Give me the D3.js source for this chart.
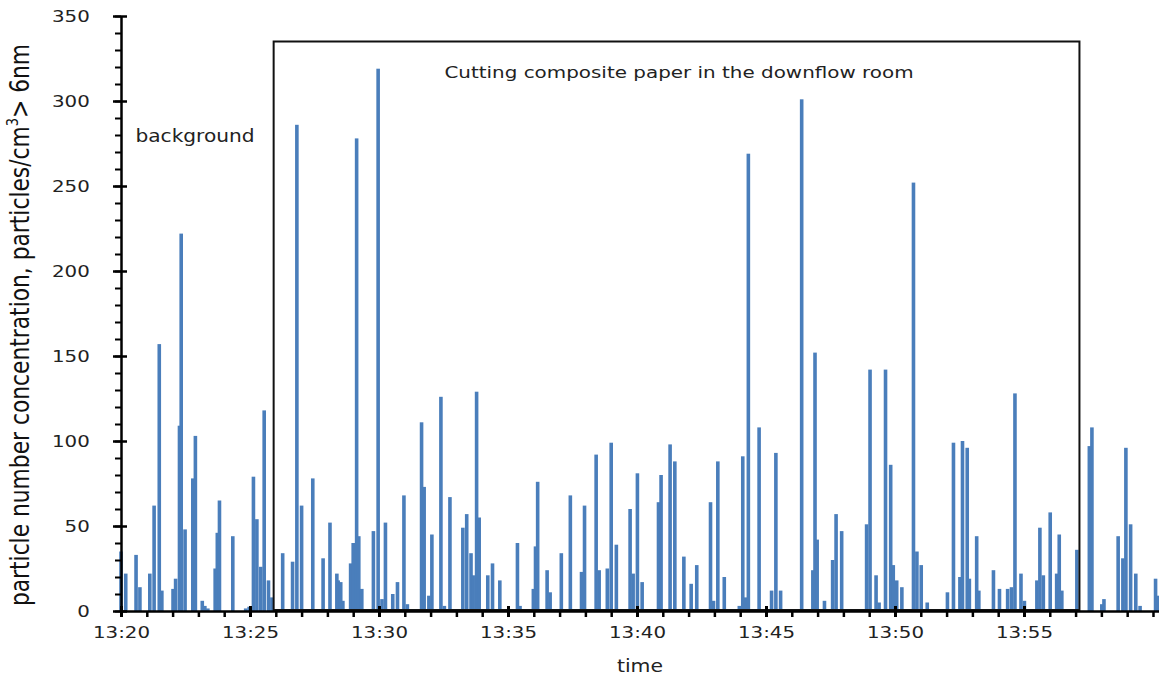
<!DOCTYPE html>
<html>
<head>
<meta charset="utf-8">
<script src="https://cdn.jsdelivr.net/npm/d3@7"></script>
<style>
    body { margin: 0; background: #fff; }
    svg { display: block; font-family: "DejaVu Sans", Verdana, sans-serif; }
</style>
</head>
<body>
<svg id="chart_svg" width="1159" height="679"></svg>
<script>
// spike times (hh:mm:ss) and concentrations
const spikeTimes = [
    "13:20:00", "13:20:11", "13:20:35", "13:20:44", "13:21:07", "13:21:17", "13:21:29", "13:21:35",
    "13:22:01", "13:22:07", "13:22:16", "13:22:20", "13:22:29", "13:22:47", "13:22:53", "13:23:09",
    "13:23:15", "13:23:22", "13:23:39", "13:23:44", "13:23:49", "13:24:20", "13:24:50", "13:24:58",
    "13:25:08", "13:25:16", "13:25:25", "13:25:33", "13:25:43", "13:25:51", "13:26:16", "13:26:39",
    "13:26:49", "13:27:00", "13:27:26", "13:27:50", "13:28:06", "13:28:22", "13:28:25", "13:28:31",
    "13:28:36", "13:28:54", "13:29:00", "13:29:08", "13:29:13", "13:29:20", "13:29:47", "13:29:58",
    "13:30:07", "13:30:15", "13:30:32", "13:30:43", "13:30:58", "13:31:06", "13:31:39", "13:31:45",
    "13:31:56", "13:32:03", "13:32:24", "13:32:32", "13:32:45", "13:33:15", "13:33:24", "13:33:34",
    "13:33:39", "13:33:47", "13:33:53", "13:34:13", "13:34:24", "13:34:41", "13:35:22", "13:35:28",
    "13:35:59", "13:36:04", "13:36:09", "13:36:31", "13:36:38", "13:37:04", "13:37:25", "13:37:51",
    "13:37:58", "13:38:25", "13:38:32", "13:38:51", "13:39:00", "13:39:12", "13:39:44", "13:39:51",
    "13:40:01", "13:40:12", "13:40:50", "13:40:56", "13:41:17", "13:41:28", "13:41:49", "13:42:06",
    "13:42:19", "13:42:51", "13:42:58", "13:43:08", "13:43:23", "13:43:58", "13:44:06", "13:44:13",
    "13:44:19", "13:44:44", "13:45:13", "13:45:23", "13:45:34", "13:46:23", "13:46:49", "13:46:54",
    "13:46:59", "13:47:16", "13:47:35", "13:47:43", "13:47:56", "13:48:54", "13:49:02", "13:49:16",
    "13:49:23", "13:49:38", "13:49:50", "13:49:56", "13:50:04", "13:50:16", "13:50:43", "13:50:51",
    "13:51:01", "13:51:15", "13:52:02", "13:52:16", "13:52:31", "13:52:37", "13:52:48", "13:52:53",
    "13:53:10", "13:53:15", "13:53:49", "13:54:03", "13:54:22", "13:54:31", "13:54:39", "13:54:53",
    "13:55:01", "13:55:30", "13:55:37", "13:55:45", "13:56:01", "13:56:16", "13:56:22", "13:56:28",
    "13:57:03", "13:57:32", "13:57:38", "13:58:01", "13:58:06", "13:58:39", "13:58:50", "13:58:57",
    "13:59:08", "13:59:20", "13:59:30", "14:00:06", "14:00:12"
];
const spikeValues = [
    35, 22, 33, 14, 22, 62, 157, 12,
    13, 19, 109, 222, 48, 78, 103, 6,
    3, 1.5, 25, 46, 65, 44, 1.5, 2.5,
    79, 54, 26, 118, 18, 8, 34, 29,
    286, 62, 78, 31, 52, 22, 18, 17,
    6, 28, 40, 278, 44, 13, 47, 319,
    7, 52, 10, 17, 68, 4, 111, 73,
    9, 45, 126, 3, 67, 49, 57, 34,
    21, 129, 55, 21, 28, 18, 40, 3,
    13, 38, 76, 24, 11, 34, 68, 23,
    62, 92, 24, 25, 99, 39, 60, 22,
    81, 17, 64, 80, 98, 88, 32, 16,
    27, 64, 6, 88, 20, 3, 91, 8,
    269, 108, 12, 93, 12, 301, 24, 152,
    42, 6, 30, 57, 47, 51, 142, 21,
    5, 142, 86, 27, 18, 14, 252, 35,
    27, 5, 11, 99, 20, 100, 96, 19,
    44, 12, 24, 13, 13, 14, 128, 22,
    6, 18, 49, 21, 58, 22, 45, 12,
    36, 97, 108, 4, 7, 44, 31, 96,
    51, 22, 3, 19, 9
];

// axis ticks
const yTickValues = [0, 50, 100, 150, 200, 250, 300, 350];
const xTickLabels = ["13:20", "13:25", "13:30", "13:35", "13:40", "13:45", "13:50", "13:55"];

// annotation box (cutting period)
const boxStart = "13:25:55";
const boxEnd = "13:57:09";
const boxTop = 335;

const parseTime = d3.timeParse("%H:%M:%S");
const spikes = spikeTimes.map((t, i) => ({ t: parseTime(t), v: spikeValues[i] }));

const svg = d3.select("#chart_svg");

// scales
let x = d3.scaleTime()
    .domain([parseTime("13:20:00"), parseTime("14:00:14")])
    .range([121, 1159]);

let y = d3.scaleLinear()
    .domain([0, 350])
    .range([611, 16]);

// bars for each spike
svg.append("g")
    .selectAll("rect")
    .data(spikes)
    .enter().append("rect")
    .attr("x", d => x(d.t) - 1.8)
    .attr("y", d => y(d.v))
    .attr("width", 3.6)
    .attr("height", d => y(0) - y(d.v))
    .attr("fill", "#4a7ebb");

// cutting period box
svg.append("rect")
    .attr("x", x(parseTime(boxStart)))
    .attr("y", y(boxTop))
    .attr("width", x(parseTime(boxEnd)) - x(parseTime(boxStart)))
    .attr("height", y(0) - y(boxTop) - 1)
    .attr("fill", "none")
    .attr("stroke", "#111")
    .attr("stroke-width", 2);

// y axis: minor ticks
svg.append("g")
    .attr("transform", "translate(121,0)")
    .call(d3.axisLeft(y).tickValues(d3.range(0, 351, 10)).tickSize(6).tickFormat(""))
    .call(g => g.select(".domain").remove())
    .selectAll("line").attr("stroke", "#000").attr("stroke-width", 2);

// y axis: major ticks and labels
let yAxis = svg.append("g")
    .attr("transform", "translate(121,0)")
    .call(d3.axisLeft(y).tickValues(yTickValues).tickSizeOuter(0).tickPadding(20));
yAxis.select(".domain").attr("stroke", "#000").attr("stroke-width", 2.5);
yAxis.selectAll(".tick line").attr("x1", 6).attr("x2", -8).attr("stroke", "#000").attr("stroke-width", 2.5);
yAxis.selectAll(".tick text")
    .attr("font-size", 16.5)
    .attr("fill", "#222")
    .attr("font-family", "DejaVu Sans")
    .attr("transform", "scale(1.2,1)");

// x axis: minor ticks
svg.append("g")
    .attr("transform", "translate(0,611)")
    .call(d3.axisBottom(x).ticks(d3.timeMinute.every(1)).tickSize(6).tickFormat(""))
    .call(g => g.select(".domain").remove())
    .selectAll("line").attr("stroke", "#000").attr("stroke-width", 2.5);

// x axis: major ticks and labels
let xAxis = svg.append("g")
    .attr("transform", "translate(0,611)")
    .call(d3.axisBottom(x)
        .tickValues(xTickLabels.map(s => parseTime(s + ":00")))
        .tickFormat(d3.timeFormat("%H:%M"))
        .tickSizeOuter(0)
        .tickPadding(9));
xAxis.select(".domain").attr("stroke", "#000").attr("stroke-width", 2.5);
xAxis.selectAll(".tick line").attr("y1", -5).attr("y2", 6).attr("stroke", "#000").attr("stroke-width", 3);
xAxis.selectAll(".tick text")
    .attr("font-size", 16.5)
    .attr("fill", "#222")
    .attr("font-family", "DejaVu Sans")
    .attr("transform", "scale(1.2,1)");

// axis titles
svg.append("text")
    .attr("transform", "translate(640,672) scale(1.2,1)")
    .attr("text-anchor", "middle")
    .attr("font-size", 17)
    .attr("fill", "#222")
    .text("time");

let yTitle = svg.append("text")
    .attr("transform", "translate(29,325) scale(1.2,1) rotate(-90)")
    .attr("text-anchor", "middle")
    .attr("font-size", 21.8)
    .attr("fill", "#111");
yTitle.append("tspan").text("particle number concentration, particles/cm");
yTitle.append("tspan").attr("font-size", 13).attr("dy", -9).text("3");
yTitle.append("tspan").attr("dy", 9).text("> 6nm");

// annotations
svg.append("text")
    .attr("transform", "translate(679,78) scale(1.2,1)")
    .attr("text-anchor", "middle")
    .attr("font-size", 16.6)
    .attr("fill", "#222")
    .text("Cutting composite paper in the downflow room");

svg.append("text")
    .attr("transform", "translate(195,142) scale(1.2,1)")
    .attr("text-anchor", "middle")
    .attr("font-size", 16.8)
    .attr("fill", "#222")
    .text("background");
</script>
</body>
</html>
